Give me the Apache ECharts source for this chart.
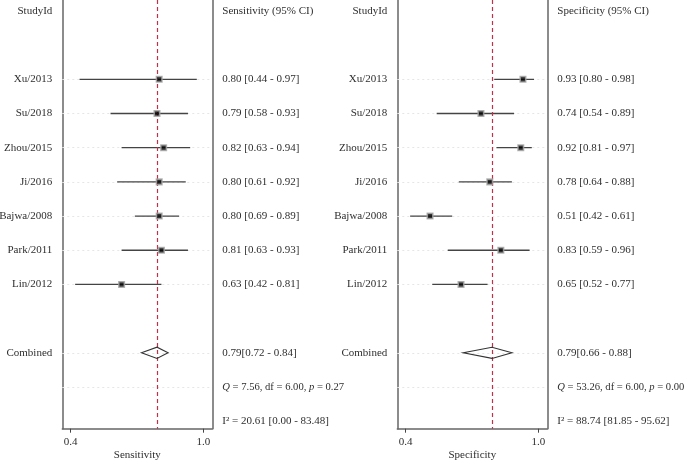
<!DOCTYPE html>
<html>
<head>
<meta charset="utf-8">
<script src="https://cdn.jsdelivr.net/npm/echarts@6/dist/echarts.min.js"></script>
<style>html,body{margin:0;padding:0;background:#fff}#c{width:686px;height:461px}</style>
</head>
<body>
<div id="c"></div>
<script>
const studies = ['Xu/2013','Su/2018','Zhou/2015','Ji/2016','Bajwa/2008','Park/2011','Lin/2012'];
const studyRows = [2,3,4,5,6,7,8];
const combinedRow = 10, qRow = 11, i2Row = 12, headerRow = 0;

const sens   = [0.80,0.79,0.82,0.80,0.80,0.81,0.63];
const sensLo = [0.44,0.58,0.63,0.61,0.69,0.63,0.42];
const sensHi = [0.97,0.93,0.94,0.92,0.89,0.93,0.81];
const sensPooled = [0.79,0.72,0.84];
const sensQ = ['7.56','6.00','0.27'];
const sensI2 = ['20.61','0.00','83.48'];

const spec   = [0.93,0.74,0.92,0.78,0.51,0.83,0.65];
const specLo = [0.80,0.54,0.81,0.64,0.42,0.59,0.52];
const specHi = [0.98,0.89,0.97,0.88,0.61,0.96,0.77];
const specPooled = [0.79,0.66,0.88];
const specQ = ['53.26','6.00','0.00'];
const specI2 = ['88.74','81.85','95.62'];

const xTicks = [0.4, 1.0];
const xMin = 0.362, xMax = 1.04;

const FONT = 'Liberation Serif';
const TXT = '#2e2e2e';
const f2 = v => v.toFixed(2);

function rightLabels(est, lo, hi, pooled, q, i2, header) {
  const m = {};
  m[headerRow] = header;
  studyRows.forEach((r, k) => { m[r] = f2(est[k]) + ' [' + f2(lo[k]) + ' - ' + f2(hi[k]) + ']'; });
  m[combinedRow] = f2(pooled[0]) + '[' + f2(pooled[1]) + ' - ' + f2(pooled[2]) + ']';
  m[qRow] = '{i|Q}{q| = ' + q[0] + ', df = ' + q[1] + ', }{i|p}{q| = ' + q[2] + '}';
  m[i2Row] = 'I² = ' + i2[0] + ' [' + i2[1] + ' - ' + i2[2] + ']';
  return m;
}
const leftMap = {};
leftMap[headerRow] = 'StudyId';
studyRows.forEach((r, k) => leftMap[r] = studies[k]);
leftMap[combinedRow] = 'Combined';

const sensMap = rightLabels(sens, sensLo, sensHi, sensPooled, sensQ, sensI2, 'Sensitivity (95% CI)');
const specMap = rightLabels(spec, specLo, specHi, specPooled, specQ, specI2, 'Specificity (95% CI)');

const rich = {
  i: { fontStyle: 'italic', fontFamily: FONT, fontSize: 10.6, color: TXT },
  q: { fontFamily: FONT, fontSize: 10.6, color: TXT }
};
const dottedRows = studyRows.concat([combinedRow, qRow]);

function yAxes(gi, map) {
  const base = {
    type: 'value', gridIndex: gi, inverse: true, min: -0.32, max: 12.22,
    splitLine: { show: false }, axisTick: { show: false },
    axisLine: { show: true, onZero: false, lineStyle: { color: '#666', width: 1.5 } }
  };
  return [
    Object.assign({}, base, { position: 'left',
      axisLabel: { customValues: [headerRow].concat(studyRows, [combinedRow]), margin: 10,
        fontFamily: FONT, fontSize: 11, color: TXT,
        formatter: v => leftMap[Math.round(v)] || '' } }),
    Object.assign({}, base, { position: 'right',
      axisLabel: { customValues: [headerRow].concat(studyRows, [combinedRow, qRow, i2Row]), margin: 10,
        fontFamily: FONT, fontSize: 11, color: TXT, rich: rich,
        formatter: v => map[Math.round(v)] || '' } })
  ];
}
function xAxis(gi, name) {
  return {
    type: 'value', gridIndex: gi, min: xMin, max: xMax, position: 'bottom',
    splitLine: { show: false },
    axisLine: { show: true, onZero: false, lineStyle: { color: '#666', width: 1.5 } },
    axisTick: { show: true, customValues: xTicks, length: 4, lineStyle: { color: '#444' } },
    axisLabel: { customValues: xTicks, margin: 8, fontFamily: FONT, fontSize: 11, color: TXT,
      formatter: v => v.toFixed(1) },
    name: name, nameLocation: 'middle', nameGap: 21, nameMoveOverlap: false,
    nameTextStyle: { fontFamily: FONT, fontSize: 11, color: TXT }
  };
}
function seriesFor(gi, est, lo, hi, pooled) {
  const xi = gi, yi = gi * 2;
  return [
    {
      type: 'line', xAxisIndex: xi, yAxisIndex: yi, z: 1, data: [], symbol: 'none',
      markLine: {
        silent: true, symbol: 'none', label: { show: false }, z: 1,
        data: dottedRows.map(r => ({ yAxis: r, lineStyle: { color: '#e6e6e6', type: [2, 3], width: 1 } }))
      }
    },
    {
      type: 'custom', xAxisIndex: xi, yAxisIndex: yi, z: 2,
      data: studyRows.map((r, k) => [lo[k], hi[k], r]),
      encode: { x: [0, 1], y: 2 },
      renderItem: (p, api) => {
        const a = api.coord([api.value(0), api.value(2)]);
        const b = api.coord([api.value(1), api.value(2)]);
        return { type: 'line', shape: { x1: a[0], y1: a[1], x2: b[0], y2: b[1] },
          style: { stroke: '#444', lineWidth: 1.3 } };
      }
    },
    {
      type: 'line', xAxisIndex: xi, yAxisIndex: yi, z: 3, data: [], symbol: 'none',
      markLine: {
        silent: true, symbol: 'none', label: { show: false }, z: 3,
        data: [{ xAxis: pooled[0], lineStyle: { color: '#c03048', type: [4, 3], width: 1.2 } }]
      }
    },
    {
      type: 'custom', xAxisIndex: xi, yAxisIndex: yi, z: 4,
      data: [[pooled[0], pooled[1], pooled[2], combinedRow]],
      encode: { x: [0, 1, 2], y: 3 },
      renderItem: (p, api) => {
        const c = api.coord([api.value(0), api.value(3)]);
        const l = api.coord([api.value(1), api.value(3)]);
        const r = api.coord([api.value(2), api.value(3)]);
        const h = 5.6;
        return { type: 'polygon',
          shape: { points: [[l[0], c[1]], [c[0], c[1] - h], [r[0], c[1]], [c[0], c[1] + h]] },
          style: { fill: 'rgba(255,255,255,0)', stroke: '#333', lineWidth: 1.1 } };
      }
    },
    {
      type: 'scatter', xAxisIndex: xi, yAxisIndex: yi, z: 5,
      data: studyRows.map((r, k) => [est[k], r]),
      symbol: 'rect', symbolSize: 5.5,
      itemStyle: { color: '#000', borderColor: '#a5a5a5', borderWidth: 1.6 }
    }
  ];
}

const chart = echarts.init(document.getElementById('c'), null, { renderer: 'canvas' });
chart.setOption({
  animation: false,
  backgroundColor: '#fff',
  grid: [
    { left: 62.3, top: 0, width: 150, height: 428.7, outerBoundsMode: 'none', containLabel: false },
    { left: 397.3, top: 0, width: 150, height: 428.7, outerBoundsMode: 'none', containLabel: false }
  ],
  xAxis: [xAxis(0, 'Sensitivity'), xAxis(1, 'Specificity')],
  yAxis: yAxes(0, sensMap).concat(yAxes(1, specMap)),
  series: seriesFor(0, sens, sensLo, sensHi, sensPooled).concat(seriesFor(1, spec, specLo, specHi, specPooled))
});
</script>
</body>
</html>
